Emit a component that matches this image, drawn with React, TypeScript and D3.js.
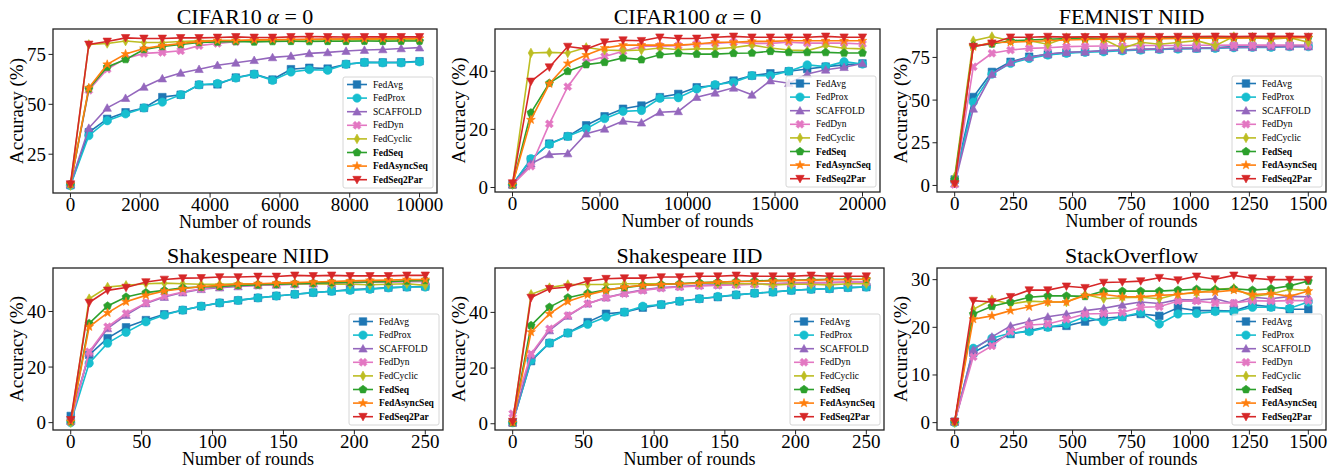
import React from "react";
import * as d3 from "d3";

// methods, in plotting order (later ones drawn on top)
const methods = ["FedAvg", "FedProx", "SCAFFOLD", "FedDyn", "FedCyclic", "FedSeq", "FedAsyncSeq", "FedSeq2Par"];
const methodColors = ["#1f77b4", "#17becf", "#9467bd", "#e377c2", "#bcbd22", "#2ca02c", "#ff7f0e", "#d62728"];
const methodMarkers = ["square", "circle", "triangleUp", "x", "thinDiamond", "pentagon", "star", "triangleDown"];
const boldMethods = ["FedSeq", "FedAsyncSeq", "FedSeq2Par"];

// evaluation rounds
const cifar10Rounds = [0, 526, 1053, 1579, 2105, 2632, 3158, 3684, 4211, 4737, 5263, 5789, 6316, 6842, 7368, 7895, 8421, 8947, 9474, 10000];
const cifar100Rounds = [0, 1053, 2105, 3158, 4211, 5263, 6316, 7368, 8421, 9474, 10526, 11579, 12632, 13684, 14737, 15789, 16842, 17895, 18947, 20000];
const femnistRounds = [0, 79, 158, 237, 316, 395, 474, 553, 632, 711, 789, 868, 947, 1026, 1105, 1184, 1263, 1342, 1421, 1500];
const shakespeareRounds = [0, 13, 26, 39, 53, 66, 79, 92, 105, 118, 132, 145, 158, 171, 184, 197, 211, 224, 237, 250];
const stackRounds = [0, 79, 158, 237, 316, 395, 474, 553, 632, 711, 789, 868, 947, 1026, 1105, 1184, 1263, 1342, 1421, 1500];

// accuracy (%) per method, same order as `methods`
const cifar10Acc = [
  [9.5, 36, 42.7, 46, 48.2, 53.6, 54.8, 59.8, 60, 63.4, 65.1, 62.4, 67.6, 68.3, 67.9, 70.1, 71, 71, 71, 71.6],
  [9.3, 34.3, 41.8, 45.2, 48.2, 51.1, 54.8, 59.8, 60.4, 63.2, 65.1, 62, 66.2, 67.4, 67.1, 70.1, 71, 70.8, 70.8, 71.3],
  [10, 38.1, 48.2, 53.1, 58.7, 62.9, 65.7, 67.6, 69.6, 70.8, 72.1, 73.5, 74.2, 75.5, 76, 76.7, 77.2, 77.5, 78, 78.4],
  [10, 57, 67.6, 73, 75.5, 76, 76.8, 79.4, 80.5, 81.4, 82, 82.3, 82.5, 82.6, 82.8, 82.8, 83, 83, 83, 83],
  [9.3, 80, 80.5, 81.7, 81, 81, 81.5, 81.8, 82, 82, 82, 82.2, 82.2, 82.3, 82.3, 82.2, 82.3, 82.3, 82.3, 82.3],
  [10, 57.8, 68.7, 72.5, 77.5, 79, 80, 81, 81.3, 81.5, 81.3, 81.5, 81.6, 81.5, 81.6, 81.6, 81.7, 81.6, 81.7, 81.7],
  [10, 58.3, 70, 75.2, 78, 79.4, 80.5, 81.4, 82, 82, 82.3, 82.4, 82.5, 82.6, 82.7, 82.8, 82.8, 82.9, 83, 83],
  [10, 80, 81.5, 83.3, 83, 83, 83.3, 83.3, 83.5, 83.8, 83.5, 83.5, 83.8, 84, 83.8, 83.7, 83.8, 83.8, 83.8, 83.8],
];
const cifar100Acc = [
  [1, 9.6, 15.1, 17.6, 21.4, 24.5, 27.1, 28.2, 31.1, 32.2, 34.5, 35.1, 36.8, 38.5, 39.3, 40, 40.8, 41.6, 42.2, 42.7],
  [1, 9.9, 14.9, 17.6, 20.2, 23.7, 26.2, 26.5, 30.7, 30.9, 33.9, 35.4, 36.2, 38.5, 38.5, 40, 42.2, 41.6, 43.3, 42.5],
  [1, 8.2, 11.4, 11.7, 18.5, 20.2, 22.9, 22.3, 25.9, 26.2, 31.1, 32.6, 34.3, 31.9, 36.8, 35.9, 39.1, 40.5, 41.4, 42.7],
  [1, 7.3, 21.9, 34.7, 43.3, 45.1, 46.9, 48.6, 48.6, 48.8, 49.4, 49.6, 50, 49.6, 49.6, 50, 49.7, 49.7, 49.7, 49.4],
  [1, 46.3, 46.5, 46.3, 48.2, 47.3, 47.1, 47.3, 48, 47.4, 47.7, 47.7, 48.2, 49, 48, 47.3, 47.1, 48.8, 47.9, 47.7],
  [1, 25.7, 35.9, 40, 42.3, 43.1, 44.6, 44, 45.7, 46.2, 45.9, 45.9, 46.2, 46.3, 46.9, 46.5, 46.5, 46.5, 46.3, 46.3],
  [1, 23.3, 35.7, 42.7, 45.6, 48, 49, 49, 49, 49, 49.4, 50, 50, 50.3, 50.3, 50.5, 50.5, 50.5, 50.5, 50.5],
  [1.5, 36.5, 41.4, 48.5, 47.7, 50, 50.7, 50.5, 51.7, 51.3, 51.3, 51.7, 52, 51.7, 51.7, 51.7, 51.7, 52, 51.7, 51.7],
];
const femnistAcc = [
  [3.5, 51.8, 66.5, 72.4, 75.4, 76.8, 77.8, 78.3, 78.9, 79.3, 79.7, 79.9, 80.3, 80.3, 80.7, 81.3, 81.3, 81.3, 81.7, 81.9],
  [2.5, 48.8, 65.2, 71.5, 74.4, 76.4, 77.4, 78, 78.3, 78.9, 79.3, 79.7, 79.9, 80.3, 80.3, 80.7, 80.9, 80.9, 81.3, 81.3],
  [1, 44.9, 65.2, 72, 75, 77, 78, 78.3, 78.9, 79.3, 79.7, 79.9, 80.3, 80.3, 80.7, 80.9, 80.9, 81.3, 81.3, 81.3],
  [0.5, 69.5, 77.4, 79.3, 80.3, 80.7, 81.3, 81.5, 81.7, 81.8, 82, 82, 82, 82.1, 82.1, 82.2, 82.2, 82.2, 82.3, 82.3],
  [5, 84.8, 87.2, 84.8, 84.8, 82.7, 86.6, 86.6, 85.6, 80.3, 83.9, 82.7, 83.7, 84.8, 81.9, 87.2, 86.8, 85.6, 86.6, 83.9],
  [3.5, 81.9, 82.9, 84.8, 85.2, 85.6, 86, 86, 86.2, 86.4, 86.4, 86.5, 86.5, 86.6, 86.6, 86.6, 86.7, 86.7, 86.7, 86.8],
  [1.5, 81.3, 83.7, 83.9, 84.3, 84.8, 85.2, 85.5, 85.7, 85.8, 86, 86, 86.1, 86.2, 86.2, 86.3, 86.4, 86.4, 86.5, 86.5],
  [1, 81.3, 83.3, 86.8, 86.8, 87.2, 86.9, 87, 87, 87.2, 87.2, 87.1, 87.2, 87.2, 87.3, 87.2, 87.3, 87.3, 87.3, 87.2],
];
const shakespeareNiidAcc = [
  [2.4, 24.4, 30.4, 34.3, 36.9, 39, 40.5, 41.9, 43.1, 44, 44.9, 45.6, 46.2, 46.8, 47.3, 47.9, 48.2, 48.6, 48.8, 49],
  [0, 21.4, 28.6, 32.5, 36.3, 38.7, 40.5, 41.9, 43.1, 44, 44.9, 45.6, 46.2, 46.8, 47.3, 47.6, 48, 48.5, 48.8, 48.8],
  [0.6, 25, 33.9, 38.7, 42.9, 45.2, 46.8, 48, 48.6, 49, 49.4, 49.6, 49.8, 50, 50.2, 50.4, 50.6, 50.6, 50.8, 50.8],
  [0.4, 25.5, 34.5, 39.3, 43.1, 45.5, 47, 48.2, 48.8, 49.2, 49.4, 49.6, 49.8, 50, 50.2, 50.4, 50.6, 50.6, 50.8, 50.8],
  [0, 44.6, 48.8, 49.4, 50, 50.2, 50, 49.8, 49.8, 50, 50, 50, 50, 50, 49.8, 49.8, 49.6, 49.8, 50, 49.4],
  [0.4, 35.7, 42, 45.2, 46.8, 47.6, 48.5, 48.8, 49, 49.4, 49.6, 49.8, 50, 50.2, 50.4, 50.5, 50.6, 50.8, 51, 51.2],
  [0.4, 34.5, 39.5, 43.5, 45.8, 47.4, 48.2, 49, 49.4, 49.8, 50, 50.2, 50.4, 50.6, 50.8, 51, 51.2, 51.3, 51.5, 51.5],
  [1, 43.2, 47.6, 48.6, 50.6, 51.5, 52, 52.1, 52.4, 52.4, 52.6, 52.6, 53, 52.8, 53, 52.8, 52.8, 52.8, 53, 53],
];
const shakespeareIidAcc = [
  [0.4, 22.5, 29, 32.6, 36.5, 39.5, 40.1, 41.7, 42.8, 44, 44.9, 45.5, 46.3, 46.9, 47.3, 47.9, 48.3, 48.5, 48.9, 49.1],
  [0.4, 22.8, 29, 32.6, 35.7, 38.3, 40.1, 42.2, 42.8, 44, 44.9, 45.7, 46.3, 46.9, 47.3, 47.9, 48.3, 48.5, 48.9, 49.1],
  [0.4, 24.6, 33.5, 38.7, 43.1, 45.3, 46.9, 48.1, 48.9, 49.3, 49.7, 49.9, 50.1, 50.3, 50.3, 50.5, 50.7, 50.7, 50.9, 50.9],
  [3.6, 25.1, 34.1, 38.9, 43.1, 45.3, 46.7, 47.9, 48.7, 49.1, 49.5, 49.7, 49.9, 50.1, 50.3, 50.5, 50.5, 50.7, 50.9, 50.9],
  [0.6, 46.5, 48.9, 50, 50, 50, 50.3, 50.3, 50.3, 50.3, 50.5, 50.5, 50.3, 50.3, 49.9, 50.1, 50.1, 49.9, 50.3, 50.3],
  [0.4, 35.3, 41.9, 45.3, 46.9, 48.1, 48.9, 49.7, 50, 50.3, 50.7, 50.9, 51.1, 51.3, 51.5, 51.5, 51.7, 51.9, 51.9, 51.9],
  [0.4, 32.9, 39.5, 43.9, 46.3, 47.9, 49.1, 49.7, 50, 50.3, 50.5, 50.9, 51.1, 51.1, 51.3, 51.5, 51.5, 51.7, 51.7, 51.9],
  [0.8, 45.3, 48.5, 49.1, 51.3, 52.1, 52.3, 52.3, 52.7, 52.7, 53, 53, 53.3, 53, 53, 53, 53.3, 53, 53, 53],
];
const stackAcc = [
  [0.2, 14.7, 16.8, 18.6, 19.3, 20.1, 20.3, 21.2, 21.9, 22.2, 22.8, 22.4, 24.1, 23.5, 23.5, 23.4, 24.7, 24.3, 23.8, 23.8],
  [0, 15.6, 17.7, 18.8, 19.1, 20, 20.7, 22.2, 21.2, 22.2, 23.1, 20.7, 22.8, 22.9, 23.3, 23.3, 24.2, 24.2, 24, 25.3],
  [0.2, 15.3, 18, 20.3, 21.2, 22.2, 22.8, 23.5, 24, 24.7, 25.3, 25, 25.8, 25.7, 26, 25, 26.3, 26, 26.5, 26.4],
  [0.2, 13.8, 16.1, 19.1, 20.5, 20.7, 21.7, 22.8, 22.9, 23.1, 24.2, 24.3, 25.5, 25.5, 25.1, 25.1, 25.6, 25.5, 25.6, 25.6],
  [0, 23.8, 25.8, 24.9, 25.5, 25.3, 25.3, 26.9, 26, 26.2, 26.3, 26, 27, 27.2, 28, 28.2, 26.5, 27, 28, 27.7],
  [0.2, 22.8, 24.4, 25.3, 26.3, 26.6, 26.6, 26.5, 27.6, 27.6, 27.6, 27.6, 27.8, 28, 27.9, 28.1, 27.8, 28.1, 28.7, 29.7],
  [0.2, 21.7, 22.4, 23.5, 24.3, 25.3, 25.3, 26.7, 26.9, 26.4, 26.4, 26.7, 26.9, 27.4, 27.4, 27.8, 26.9, 27.1, 26.5, 27.6],
  [0.2, 25.6, 25.3, 26.4, 27.8, 27.8, 28.6, 28.3, 29.4, 29.5, 29.7, 30.4, 29.9, 30.7, 30.1, 30.9, 30.3, 30, 30, 30],
];

// tick labels
const cifar10XTicks = [0, 2000, 4000, 6000, 8000, 10000];
const cifar100XTicks = [0, 5000, 10000, 15000, 20000];
const femnistXTicks = [0, 250, 500, 750, 1000, 1250, 1500];
const shakespeareXTicks = [0, 50, 100, 150, 200, 250];
const cifar10YTicks = [25, 50, 75];
const cifar100YTicks = [0, 20, 40];
const femnistYTicks = [0, 25, 50, 75];
const shakespeareYTicks = [0, 20, 40];
const stackYTicks = [0, 10, 20, 30];

const panels = [
  { title: "CIFAR10", alpha: true, rounds: cifar10Rounds, acc: cifar10Acc, xTicks: cifar10XTicks, yTicks: cifar10YTicks, box: [53, 29, 437, 193] },
  { title: "CIFAR100", alpha: true, rounds: cifar100Rounds, acc: cifar100Acc, xTicks: cifar100XTicks, yTicks: cifar100YTicks, box: [495, 29, 880, 192] },
  { title: "FEMNIST NIID", alpha: false, rounds: femnistRounds, acc: femnistAcc, xTicks: femnistXTicks, yTicks: femnistYTicks, box: [937, 29, 1326, 192] },
  { title: "Shakespeare NIID", alpha: false, rounds: shakespeareRounds, acc: shakespeareNiidAcc, xTicks: shakespeareXTicks, yTicks: shakespeareYTicks, box: [53, 268, 443, 430] },
  { title: "Shakespeare IID", alpha: false, rounds: shakespeareRounds, acc: shakespeareIidAcc, xTicks: shakespeareXTicks, yTicks: shakespeareYTicks, box: [495, 268, 884, 430] },
  { title: "StackOverflow", alpha: false, rounds: stackRounds, acc: stackAcc, xTicks: femnistXTicks, yTicks: stackYTicks, box: [937, 268, 1326, 430] },
];

const FONT = "'Liberation Serif', 'Times New Roman', serif";

// polygon helper
const poly = (pts: number[][]) => "M" + pts.map((p) => p[0].toFixed(2) + "," + p[1].toFixed(2)).join("L") + "Z";

function markerPath(kind: string, r: number): string {
  switch (kind) {
    case "square": {
      const s = r * 0.9;
      return poly([[-s, -s], [s, -s], [s, s], [-s, s]]);
    }
    case "circle":
      return d3.symbol(d3.symbolCircle, Math.PI * r * r)() as string;
    case "triangleUp":
      return poly([[0, -r], [r, r * 0.8], [-r, r * 0.8]]);
    case "triangleDown":
      return poly([[0, r], [r, -r * 0.8], [-r, -r * 0.8]]);
    case "thinDiamond":
      return poly([[0, -r * 1.15], [r * 0.65, 0], [0, r * 1.15], [-r * 0.65, 0]]);
    case "pentagon": {
      const pts = d3.range(5).map((i) => {
        const a = -Math.PI / 2 + (i * 2 * Math.PI) / 5;
        return [r * Math.cos(a), r * Math.sin(a)];
      });
      return poly(pts);
    }
    case "star": {
      const pts = d3.range(10).map((i) => {
        const a = -Math.PI / 2 + (i * Math.PI) / 5;
        const rr = i % 2 === 0 ? r * 1.1 : r * 0.45;
        return [rr * Math.cos(a), rr * Math.sin(a)];
      });
      return poly(pts);
    }
    case "x": {
      const w = r * 0.35;
      const e = r;
      const base = [[-w, -e], [w, -e], [w, -w], [e, -w], [e, w], [w, w], [w, e], [-w, e], [-w, w], [-e, w], [-e, -w], [-w, -w]];
      const c = Math.SQRT1_2;
      return poly(base.map(([px, py]) => [px * c - py * c, px * c + py * c]));
    }
  }
  return "";
}

function Panel({ p }: { p: any }) {
  const [x0, y0, x1, y1] = p.box;
  const xMax = d3.max(p.rounds as number[]) as number;
  const x = d3.scaleLinear().domain([-0.05 * xMax, 1.05 * xMax]).range([x0, x1]);
  const [lo, hi] = d3.extent((p.acc as number[][]).flat()) as [number, number];
  const pad = (hi - lo) * 0.05;
  const y = d3.scaleLinear().domain([lo - pad, hi + pad]).range([y1, y0]);
  const line = d3
    .line<number>()
    .x((_, i) => x(p.rounds[i]))
    .y((d) => y(d));

  const legW = 90;
  const legH = 111;
  const legX = x1 - 4 - legW;
  const legY = y1 - 5 - legH;
  const cx = (x0 + x1) / 2;

  return (
    <g>
      {/* title */}
      <text x={cx} y={y0 - 5} textAnchor="middle" fontSize={22} fontFamily={FONT} fill="#000">
        {p.title}
        {p.alpha && (
          <>
            {" "}
            <tspan fontStyle="italic">α</tspan>
            {" = 0"}
          </>
        )}
      </text>

      {/* series */}
      {(p.acc as number[][]).map((vals, si) => (
        <g key={si}>
          <path d={line(vals) as string} fill="none" stroke={methodColors[si]} strokeWidth={1.6} />
          {vals.map((v, i) => (
            <path
              key={i}
              d={markerPath(methodMarkers[si], 4.2)}
              transform={`translate(${x(p.rounds[i])},${y(v)})`}
              fill={methodColors[si]}
              stroke={methodColors[si]}
              strokeWidth={0.6}
            />
          ))}
        </g>
      ))}

      {/* frame */}
      <rect x={x0} y={y0} width={x1 - x0} height={y1 - y0} fill="none" stroke="#222" strokeWidth={1.3} />

      {/* x ticks */}
      {(p.xTicks as number[]).map((t) => (
        <g key={"x" + t}>
          <line x1={x(t)} x2={x(t)} y1={y1} y2={y1 + 4.5} stroke="#222" strokeWidth={1} />
          <text x={x(t)} y={y1 + 18} textAnchor="middle" fontSize={19} fontFamily={FONT} fill="#000">
            {t}
          </text>
        </g>
      ))}
      <text x={cx} y={y1 + 35} textAnchor="middle" fontSize={18} fontFamily={FONT} fill="#000">
        Number of rounds
      </text>

      {/* y ticks */}
      {(p.yTicks as number[]).map((t) => (
        <g key={"y" + t}>
          <line x1={x0 - 4.5} x2={x0} y1={y(t)} y2={y(t)} stroke="#222" strokeWidth={1} />
          <text x={x0 - 7} y={y(t)} dy="0.34em" textAnchor="end" fontSize={19} fontFamily={FONT} fill="#000">
            {t}
          </text>
        </g>
      ))}
      <text
        transform={`translate(${x0 - 30},${(y0 + y1) / 2}) rotate(-90)`}
        textAnchor="middle"
        fontSize={19}
        fontFamily={FONT}
        fill="#000"
      >
        Accuracy (%)
      </text>

      {/* legend */}
      <rect x={legX} y={legY} width={legW} height={legH} rx={2} fill="#fff" fillOpacity={0.8} stroke="#cccccc" strokeWidth={0.8} />
      {methods.map((m, i) => {
        const ly = legY + 7.5 + i * 13.6;
        return (
          <g key={m}>
            <line x1={legX + 4} x2={legX + 24} y1={ly} y2={ly} stroke={methodColors[i]} strokeWidth={1.6} />
            <path
              d={markerPath(methodMarkers[i], 4.2)}
              transform={`translate(${legX + 14},${ly})`}
              fill={methodColors[i]}
              stroke={methodColors[i]}
              strokeWidth={0.6}
            />
            <text
              x={legX + 30}
              y={ly}
              dy="0.33em"
              fontSize={9.5}
              fontFamily={FONT}
              fontWeight={boldMethods.includes(m) ? "bold" : "normal"}
              fill="#000"
            >
              {m}
            </text>
          </g>
        );
      })}
    </g>
  );
}

export default function App() {
  return (
    <svg
      width={1339}
      height={472}
      style={{ position: "absolute", left: 0, top: 0, background: "#fff" }}
    >
      {panels.map((p) => (
        <Panel key={p.title + p.box[0]} p={p} />
      ))}
    </svg>
  );
}
